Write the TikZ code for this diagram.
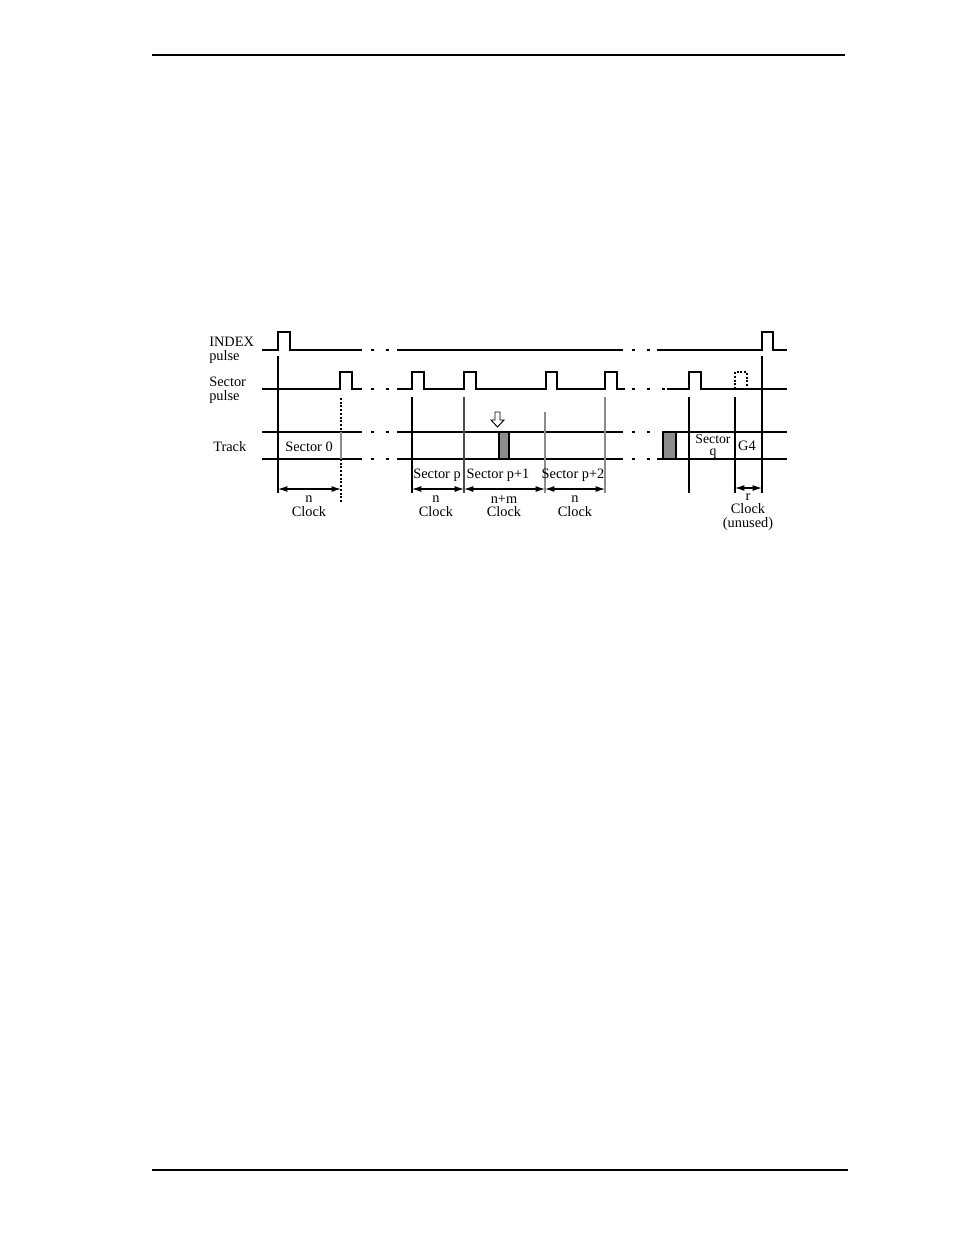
\documentclass[tikz,border=0pt]{standalone}
\usepackage{fontspec}
\setmainfont{Liberation Serif}
\usetikzlibrary{arrows.meta}
\begin{document}
\begin{tikzpicture}[x=0.6415pt, y=-0.6415pt]
	\tikzset{sig/.style={draw, line width=0.95pt}}
	\tikzset{mark line/.style={draw, line width=0.7pt}}
	\tikzset{gray line/.style={draw, line width=0.7pt, black!45}}
	\tikzset{dotted line/.style={draw, line width=0.7pt, dash pattern=on 1.2pt off 1.2pt}}
	\tikzset{gapdot/.style={draw, line width=1.2pt}}
	\tikzset{span/.style={draw, line width=0.7pt, {Latex[length=6pt,width=3.8pt]}-{Latex[length=6pt,width=3.8pt]}}}
	\tikzset{lbl/.style={inner sep=0pt, align=center, font=\fontsize{9.2}{8.6}\selectfont}}
	\tikzset{block/.style={draw, line width=0.8pt, fill=black!45}}
	
	\useasboundingbox (0,0) rectangle (954,1235);
	
	% page rules
	\draw[line width=0.8pt] (152,55) -- (845,55);
	\draw[line width=1.5pt] (152,1170) -- (848,1170);
	
	% signal names
	\node[lbl, align=left, anchor=west, font=\fontsize{9.2}{9}\selectfont] (idx) at (209,350) {INDEX\\pulse};
	\node[lbl, align=left, anchor=west, font=\fontsize{9.2}{9}\selectfont] (sec) at (209,390) {Sector\\pulse};
	\node[lbl, anchor=west] (trk) at (213,447) {Track};
	
	% INDEX pulse
	\draw[sig] (262,350) -- (278,350) -- (278,332) -- (290,332) -- (290,350) -- (362,350);
	\draw[sig] (397,350) -- (623,350);
	\draw[sig] (657,350) -- (762,350) -- (762,332) -- (773,332) -- (773,350) -- (787,350);
	
	% Sector pulse
	\draw[sig] (262,389) -- (340,389) -- (340,372) -- (352,372) -- (352,389) -- (362,389);
	\draw[sig] (397,389) -- (412,389) -- (412,372) -- (424,372) -- (424,389)
		-- (464,389) -- (464,372) -- (476,372) -- (476,389)
		-- (546,389) -- (546,372) -- (557,372) -- (557,389)
		-- (605,389) -- (605,372) -- (617,372) -- (617,389) -- (625,389);
	\draw[sig] (667,389) -- (689,389) -- (689,372) -- (701,372) -- (701,389) -- (787,389);
	\draw[dotted line] (735,389) -- (735,372) -- (747,372) -- (747,389);
	
	% Track
	\draw[sig] (262,432) -- (362,432) (397,432) -- (623,432) (663,432) -- (787,432);
	\draw[sig] (262,459) -- (362,459) (397,459) -- (623,459) (657,459) -- (787,459);
	\draw[block] (499,432) rectangle (509,459);
	\draw[block] (663,432) rectangle (676,459);
	
	% breaks
	\foreach \x in {372,387} {
		\draw[gapdot] (\x-1.5,350) -- (\x+1.5,350);
		\draw[gapdot] (\x-1.5,389) -- (\x+1.5,389);
		\draw[gapdot] (\x-1.5,432) -- (\x+1.5,432);
		\draw[gapdot] (\x-1.5,459) -- (\x+1.5,459);
	}
	\foreach \x in {633,648} {
		\draw[gapdot] (\x-1.5,350) -- (\x+1.5,350);
		\draw[gapdot] (\x-1.5,432) -- (\x+1.5,432);
		\draw[gapdot] (\x-1.5,459) -- (\x+1.5,459);
	}
	\foreach \x in {633,648,663}
		\draw[gapdot] (\x-1.5,389) -- (\x+1.5,389);
	
	% boundaries
	\coordinate (b0) at (278,489);
	\coordinate (b1) at (341,489);
	\coordinate (bp) at (412,489);
	\coordinate (bp1) at (464,489);
	\coordinate (bp2) at (545,489);
	\coordinate (bp3) at (605,489);
	\coordinate (bq) at (735,488);
	\coordinate (bi) at (762,488);
	
	\draw[mark line] (278,356) -- (278,493);
	\draw[dotted line] (341,398) -- (341,432);
	\draw[gray line] (341,432) -- (341,459);
	\draw[dotted line] (341,459) -- (341,502);
	\draw[mark line] (412,397) -- (412,493);
	\draw[draw, line width=0.7pt, black!70] (464,397) -- (464,493);
	\draw[gray line] (545,412) -- (545,493);
	\draw[gray line] (605,397) -- (605,493);
	\draw[mark line] (689,397) -- (689,493);
	\draw[mark line] (735,397) -- (735,493);
	\draw[mark line] (762,356) -- (762,493);
	
	% hollow arrow
	\draw[line width=0.6pt, fill=white] (495,412) -- (500,412) -- (500,420) -- (504,420)
		-- (497.5,427) -- (491,420) -- (495,420) -- cycle;
	
	% sector names
	\node[lbl] (s0) at (309,447) {Sector 0};
	\node[lbl] (sp) at (437,475) {Sector p};
	\node[lbl] (sp1) at (498,475) {Sector p+1};
	\node[lbl] (sp2) at (573,475) {Sector p+2};
	\node[lbl, font=\fontsize{8.8}{7.6}\selectfont] (sq) at (713,446) {Sector\\q};
	\node[lbl] (g4) at (747,446) {G4};
	
	% spans
	\draw[span] (b0) -- (b1);
	\draw[span] (bp) -- (bp1);
	\draw[span] (bp1) -- (bp2);
	\draw[span] (bp2) -- (bp3);
	\draw[span] (bq) -- (bi);
	
	\node[lbl] (c0) at (309,506) {n\\Clock};
	\node[lbl] (cp) at (436,506) {n\\Clock};
	\node[lbl] (cp1) at (504,506) {n+m\\Clock};
	\node[lbl] (cp2) at (575,506) {n\\Clock};
	\node[lbl] (cq) at (748,512) {r\\Clock\\(unused)};
\end{tikzpicture}
\end{document}
